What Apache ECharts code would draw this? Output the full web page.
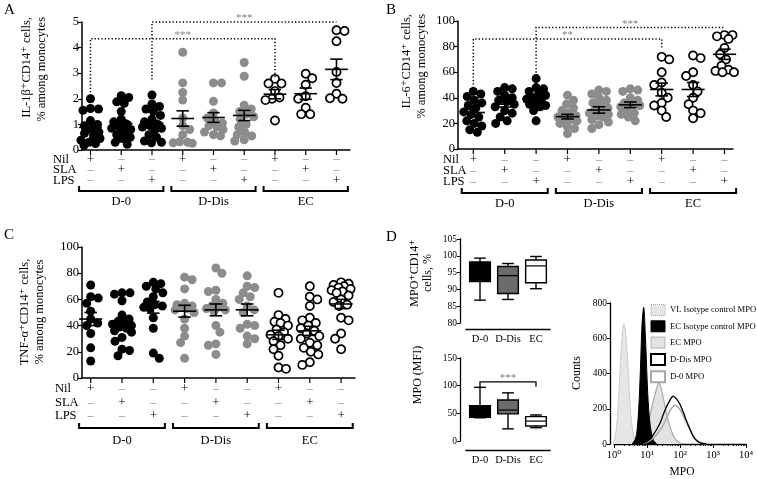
<!DOCTYPE html>
<html><head><meta charset="utf-8">
<script src="https://cdn.jsdelivr.net/npm/echarts@6.0.0/dist/echarts.min.js"></script>
<style>html,body{margin:0;padding:0;background:#fff;}#chart{width:757px;height:479px;}</style>
</head><body><div id="chart"></div>
<script>
// ================= DATA =================
const groupNames = ['D-0', 'D-Dis', 'EC'];
const columnKeys = ['D-0 Nil','D-0 SLA','D-0 LPS','D-Dis Nil','D-Dis SLA','D-Dis LPS','EC Nil','EC SLA','EC LPS'];
const rowNames = ['Nil', 'SLA', 'LPS'];
const nilRow = ['+','–','–','+','–','–','+','–','–'];
const slaRow = ['–','+','–','–','+','–','–','+','–'];
const lpsRow = ['–','–','+','–','–','+','–','–','+'];

// Panel A: IL-1β+CD14+ cells, % among monocytes
const il1bValues = [
  [2.0, 1.62, 1.6, 1.55, 1.15, 1.0, 0.95, 0.8, 0.7, 0.65, 0.55, 0.45, 0.38, 0.3, 0.25, 0.18],
  [2.12, 2.05, 1.88, 1.82, 1.5, 1.2, 1.1, 1.0, 0.9, 0.85, 0.8, 0.7, 0.6, 0.5, 0.45, 0.3, 0.22],
  [2.15, 1.8, 1.7, 1.6, 1.5, 1.35, 1.2, 1.1, 1.0, 0.95, 0.9, 0.85, 0.8, 0.6, 0.5, 0.35, 0.3, 0.28],
  [3.82, 2.62, 2.25, 1.95, 1.25, 0.95, 0.8, 0.6, 0.32, 0.3, 0.28, 0.26],
  [2.62, 2.62, 1.9, 1.45, 1.25, 1.15, 1.05, 0.95, 0.9, 0.8, 0.7, 0.6, 0.55],
  [3.42, 2.88, 1.75, 1.6, 1.5, 1.4, 1.3, 1.2, 1.0, 0.9, 0.7, 0.6, 0.55, 0.4, 0.35],
  [2.78, 2.6, 2.6, 2.3, 2.05, 2.0, 1.95, 1.15],
  [2.98, 2.8, 2.55, 2.1, 2.0, 1.65, 1.4, 1.4],
  [4.68, 4.65, 4.25, 3.05, 2.62, 2.2, 2.02, 2.0]
];
const il1bMeans = [0.88, 1.03, 1.05, 1.23, 1.27, 1.35, 2.18, 2.2, 3.15];
const il1bSems  = [0.12, 0.14, 0.11, 0.3, 0.19, 0.2, 0.18, 0.22, 0.4];
const il1bSig = [
  {cols: [0, 6], top: 4.35, ends: [2.12, 2.85], label: '***'},
  {cols: [2, 8], top: 5.0, ends: [2.75, null], label: '***'}
];

// Panel B: IL-6+CD14+ cells, % among monocytes
const il6Values = [
  [45, 43, 41, 38, 36, 34, 32, 29, 27, 25, 22, 20, 18, 15, 13],
  [48, 47, 45, 42, 40, 38, 37, 35, 33, 30, 28, 25, 22, 20],
  [55, 48, 47, 45, 43, 42, 40, 39, 38, 36, 35, 34, 33, 30, 22],
  [42, 38, 35, 32, 30, 28, 26, 25, 24, 23, 22, 20, 18, 16, 12],
  [46, 45, 43, 40, 38, 36, 34, 32, 30, 29, 28, 27, 26, 25, 23, 21, 19, 16],
  [47, 46, 45, 40, 38, 36, 35, 34, 33, 31, 28, 27, 25, 22],
  [72, 70, 60, 52, 50, 44, 40, 36, 34, 30, 25],
  [73, 71, 60, 57, 50, 45, 40, 35, 30, 28, 24],
  [89, 89, 88, 86, 79, 74, 70, 65, 62, 61, 60, 60]
];
const il6Means = [28.5, 35, 39.5, 25.3, 30.5, 34.5, 46.5, 46.5, 74];
const il6Sems  = [2.5, 2.2, 2.2, 1.8, 2.5, 2.2, 5, 5.5, 4];
const il6Sig = [
  {cols: [0, 6], top: 86, ends: [45, 78.5], label: '**'},
  {cols: [2, 8], top: 95, ends: [57, null], label: '***'}
];

// Panel C: TNF-α+CD14+ cells, % among monocytes
const tnfValues = [
  [71, 62, 61, 57, 51, 45, 42, 40, 34, 23, 13],
  [65, 65, 64, 59, 48, 45, 43, 42, 41, 40, 39, 38, 36, 35, 31, 28, 22, 21, 17],
  [73, 72, 70, 68, 65, 62, 58, 56, 55, 54, 53, 46, 38, 19, 15],
  [77, 75, 68, 57, 56, 55, 54, 53, 52, 50, 45, 38, 32, 27, 15],
  [84, 80, 67, 66, 60, 57, 55, 54, 53, 52, 51, 40, 35, 26, 25, 18],
  [78, 70, 69, 65, 62, 60, 55, 52, 50, 41, 40, 38, 32, 30, 26],
  [65, 48, 45, 43, 42, 40, 37, 35, 33, 32, 30, 28, 25, 22, 17, 8, 7],
  [70, 62, 60, 55, 46, 44, 42, 40, 38, 36, 34, 32, 30, 27, 25, 23, 20, 18, 12, 10],
  [73, 72, 71, 70, 69, 68, 67, 66, 65, 63, 60, 58, 56, 55, 46, 44, 34, 30, 22]
];
const tnfMeans = [45, 42.5, 54, 51, 52, 52, 33, 36, 56.5];
const tnfSems  = [5, 3.5, 4.5, 4.5, 4.5, 4.5, 3.5, 3.5, 3.5];

// Panel D: box plots [min, q1, median, q3, max]
const mpoPctBox = [[86.8, 92.3, 95, 98.2, 99.3], [87, 88.8, 94.1, 96.8, 97.7], [90.2, 92, 97, 98.75, 99.8]];
const mpoMfiBox = [[42, 43, 50, 64, 97], [22, 49, 56, 74, 87], [24, 27, 36, 44, 47]];
const mpoMfiSig = {cols: [0, 2], top: 107, ends: [97, 98], label: '***'};

// Panel D histogram (MPO fluorescence, counts)
const vlIsoX = [0.79, 1, 1.12, 1.26, 1.41, 1.58, 1.78, 2.0, 2.24, 2.51, 2.82, 3.16, 3.55, 3.98, 4.47, 5.01, 5.62];
const vlIsoY = [0, 20, 60, 150, 300, 480, 620, 680, 640, 520, 360, 200, 100, 45, 20, 8, 0];
const ecIsoX = [3.55, 4.47, 5.01, 5.62, 6.31, 7.08, 7.94, 8.91, 10, 11.2, 12.6, 14.1, 15.8, 20];
const ecIsoY = [0, 30, 80, 200, 420, 680, 775, 620, 380, 200, 100, 50, 20, 0];
const ecMpoX = [3.98, 6.31, 7.94, 10, 12.6, 15.8, 20, 22.9, 28.2, 35.5, 44.7, 56.2, 70.8, 100, 126];
const ecMpoY = [0, 25, 45, 90, 170, 250, 320, 345, 300, 210, 130, 70, 30, 5, 0];
const dDisMpoX = [7.94, 10, 12.6, 15.8, 20, 25.1, 31.6, 39.8, 50.1, 56.2, 63.1, 70.8, 79.4, 100, 126, 158, 200, 251, 316, 398, 501, 631];
const dDisMpoY = [5, 15, 30, 55, 85, 120, 170, 215, 250, 265, 272, 262, 255, 225, 180, 130, 85, 45, 20, 8, 3, 0];
const d0MpoX = [7.94, 10, 12.6, 15.8, 20, 25.1, 31.6, 39.8, 50.1, 63.1, 70.8, 79.4, 100, 126, 158, 200, 251, 316, 398, 501, 631];
const d0MpoY = [3, 10, 20, 35, 55, 80, 110, 150, 190, 215, 220, 215, 195, 160, 120, 80, 45, 22, 10, 3, 0];
const histLegend = ['VL Isotype control MPO', 'EC Isotype control MPO', 'EC MPO', 'D-Dis MPO', 'D-0 MPO'];

// ================= BUILD =================
const FONT = '"Liberation Serif", "DejaVu Serif", serif';
const grid = [], xAxis = [], yAxis = [], series = [], graphic = [];
const BLACK = '#000';

// deterministic beeswarm placement (pixel offsets along the category direction)
function swarm(vals, pxPerUnit, diam, maxPx) {
  const placed = [], res = [];
  let flip = 1;
  vals.forEach(v => {
    const y = v * pxPerUnit;
    let chosen = null, bestX = 0, bestD = -1;
    for (let k = 0; k <= Math.round(maxPx * 2); k++) {
      const cands = k === 0 ? [0] : [flip * k * 0.5, -flip * k * 0.5];
      for (const x of cands) {
        let dmin = Infinity;
        for (const q of placed) { const d = Math.hypot(q[0] - x, q[1] - y); if (d < dmin) dmin = d; }
        if (dmin >= diam) { chosen = x; break; }
        if (dmin > bestD + 0.01) { bestD = dmin; bestX = x; }
      }
      if (chosen !== null) break;
    }
    const x = chosen !== null ? chosen : bestX;
    if (x !== 0) flip = x > 0 ? -1 : 1;
    placed.push([x, y]); res.push(x);
  });
  return res;
}

function txt(text, x, y, size, opts) {
  opts = opts || {};
  return {type: 'text', x, y, rotation: opts.rot || 0, silent: true, z: 10,
    style: {text, font: size + 'px ' + FONT, fill: opts.color || BLACK,
      align: opts.align || 'left', verticalAlign: opts.va || 'middle', textAlign: opts.align || 'left', textVerticalAlign: opts.va || 'middle'}};
}

const groupStyles = [
  {color: '#000', size: 9},
  {color: '#8c8c8c', size: 9},
  {color: '#fff', borderColor: '#000', borderWidth: 1.7, size: 8.2}
];

function addDotPanel(p) {
  const ga = grid.length;
  grid.push({left: p.axLeft, top: p.top, width: p.axWidth, height: p.height, outerBoundsMode: 'none'});
  const gp = grid.length;
  grid.push({left: p.ptLeft, top: p.top, width: p.ptWidth, height: p.height, outerBoundsMode: 'none'});
  const axisLine = {show: true, onZero: false, lineStyle: {color: BLACK, width: 1.5}};
  xAxis.push({gridIndex: ga, type: 'value', min: 0, max: 1, position: 'bottom', axisLine, axisTick: {show: false}, axisLabel: {show: false}, splitLine: {show: false}});
  yAxis.push({gridIndex: ga, type: 'value', min: 0, max: p.yMax, interval: p.yInt, axisLine,
    axisTick: {show: true, length: 4, lineStyle: {color: BLACK, width: 1.2}},
    axisLabel: {color: BLACK, fontSize: 12.5, fontFamily: FONT, margin: 3}, splitLine: {show: false}});
  xAxis.push({gridIndex: gp, type: 'category', position: 'bottom', data: columnKeys,
    axisLine: {show: false, onZero: false},
    axisTick: {show: false},
    axisLabel: {interval: 0, margin: p.rowMargin,
      formatter: (v, i) => [nilRow[i], slaRow[i], lpsRow[i]].map(s => s === '+' ? '{p|+}' : '{m|–}').join('\n'),
      rich: {p: {color: BLACK, fontSize: 13, fontFamily: FONT, lineHeight: p.rowLH},
             m: {color: '#8a8a8a', fontSize: 12, fontFamily: FONT, lineHeight: p.rowLH}}},
    splitLine: {show: false}});
  xAxis.push({gridIndex: gp, type: 'value', position: 'top', min: -0.5, max: 8.5, show: false});
  const xv = xAxis.length - 1;
  yAxis.push({gridIndex: gp, type: 'value', min: 0, max: p.yMax, show: false});
  const yp = yAxis.length - 1;

  const pxPerUnit = p.height / p.yMax;
  const band = p.ptWidth / 9;
  for (let g = 0; g < 3; g++) {
    const data = [];
    for (let c = g * 3; c < g * 3 + 3; c++) {
      const offs = swarm(p.values[c], pxPerUnit, 7.6, 9.5);
      p.values[c].forEach((v, k) => data.push([c + offs[k] / band, v]));
    }
    const st = groupStyles[g];
    series.push({type: 'scatter', xAxisIndex: xv, yAxisIndex: yp, data, symbol: 'circle', symbolSize: st.size, silent: true, z: 2,
      itemStyle: {color: st.color, borderColor: st.borderColor || st.color, borderWidth: st.borderWidth || 0, opacity: 1}});
  }
  // mean ± SEM
  series.push({type: 'custom', xAxisIndex: xv, yAxisIndex: yp, silent: true, z: 5,
    data: p.means.map((m, i) => [i, m, p.sems[i]]), encode: {x: 0, y: 1},
    renderItem: (params, api) => {
      const c = api.value(0), m = api.value(1), s = api.value(2);
      const pm = api.coord([c, m]), pt = api.coord([c, m + s]), pb = api.coord([c, m - s]);
      const bw = api.size([1, 0])[0];
      const hw = bw * 0.37, cw = bw * 0.2;
      const st = {stroke: BLACK, lineWidth: 1.6};
      return {type: 'group', children: [
        {type: 'line', shape: {x1: pm[0] - hw, y1: pm[1], x2: pm[0] + hw, y2: pm[1]}, style: st},
        {type: 'line', shape: {x1: pm[0], y1: pt[1], x2: pm[0], y2: pb[1]}, style: st},
        {type: 'line', shape: {x1: pm[0] - cw, y1: pt[1], x2: pm[0] + cw, y2: pt[1]}, style: st},
        {type: 'line', shape: {x1: pm[0] - cw, y1: pb[1], x2: pm[0] + cw, y2: pb[1]}, style: st}
      ]};
    }});
  if (p.sigs) series.push(sigSeries(xv, yp, p.sigs, {lw: 1.5, dash: [1.3, 2.1], textColor: '#808080'}));
  // category ticks + group brackets
  series.push({type: 'custom', xAxisIndex: xv, yAxisIndex: yp, silent: true, clip: false, z: 5,
    data: groupNames.map((g, i) => [i * 3, i * 3 + 2, i]), encode: {x: 0, y: 2},
    renderItem: (params, api) => {
      const c0 = api.value(0), c1 = api.value(1);
      const a = api.coord([c0, 0]), b = api.coord([c1, 0]);
      const bw = api.size([1, 0])[0];
      const l = a[0] - bw * 0.37, r = b[0] + bw * 0.37, yb = a[1] + p.bracketDy;
      const kids = [
        {type: 'polyline', shape: {points: [[l, yb - 5], [l, yb], [r, yb], [r, yb - 5]]}, style: {stroke: BLACK, lineWidth: 2, fill: null}},
        {type: 'text', style: {text: groupNames[api.value(2)], x: (l + r) / 2, y: a[1] + p.labelDy, align: 'center', verticalAlign: 'middle', fill: BLACK, font: '12.5px ' + FONT}}
      ];
      for (let c = c0; c <= c1; c++) {
        const t = api.coord([c, 0]);
        kids.push({type: 'line', shape: {x1: t[0], y1: t[1], x2: t[0], y2: t[1] + 5}, style: {stroke: BLACK, lineWidth: 1.2}});
      }
      return {type: 'group', children: kids};
    }});
  const axisY = p.top + p.height;
  rowNames.forEach((n, i) => graphic.push(txt(n, p.rowLabelX, axisY + p.rowMargin + p.rowLH * (i + 0.5), 12.5)));
  p.titles.forEach((t, i) => graphic.push(txt(t, p.titleX[i], p.titleY, 12.5, {rot: Math.PI / 2, align: p.titleAlign})));
}

function sigSeries(xIdx, yIdx, sigs, style) {
  return {type: 'custom', xAxisIndex: xIdx, yAxisIndex: yIdx, silent: true, clip: false, z: 6,
    data: sigs.map((s, i) => [s.cols[0], s.top, i]), encode: {x: 0, y: 1},
    renderItem: (params, api) => {
      const s = sigs[api.value(2)];
      const pts = [];
      if (s.ends[0] != null) pts.push(api.coord([s.cols[0], s.ends[0]]));
      pts.push(api.coord([s.cols[0], s.top]));
      pts.push(api.coord([s.cols[1], s.top]));
      if (s.ends[1] != null) pts.push(api.coord([s.cols[1], s.ends[1]]));
      const mid = api.coord([(s.cols[0] + s.cols[1]) / 2, s.top]);
      const ls = {stroke: BLACK, lineWidth: style.lw, fill: null};
      if (style.dash) ls.lineDash = style.dash;
      return {type: 'group', children: [
        {type: 'polyline', shape: {points: pts}, style: ls},
        {type: 'text', style: {text: s.label, x: mid[0], y: mid[1] + 2, align: 'center', verticalAlign: 'bottom', fill: style.textColor, font: '11px ' + FONT}}
      ]};
    }};
}

addDotPanel({axLeft: 82, axWidth: 268, ptLeft: 75.1, ptWidth: 276.75, top: 22, height: 128, yMax: 5, yInt: 1,
  rowLH: 10.5, rowMargin: 4, rowLabelX: 53, bracketDy: 41, labelDy: 52,
  values: il1bValues, means: il1bMeans, sems: il1bSems, sigs: il1bSig,
  titles: ['IL-1β⁺CD14⁺ cells,', '% among monocytes'], titleX: [27, 42], titleY: 17, titleAlign: 'right'});
addDotPanel({axLeft: 458, axWidth: 275, ptLeft: 457.6, ptWidth: 282.6, top: 21, height: 128, yMax: 100, yInt: 20,
  rowLH: 11, rowMargin: 5.5, rowLabelX: 443, bracketDy: 44, labelDy: 55,
  values: il6Values, means: il6Means, sems: il6Sems, sigs: il6Sig,
  titles: ['IL-6⁺CD14⁺ cells,', '% among monocytes'], titleX: [407, 422], titleY: 14, titleAlign: 'right'});
addDotPanel({axLeft: 82, axWidth: 273, ptLeft: 75.05, ptWidth: 281.7, top: 247, height: 131, yMax: 100, yInt: 20,
  rowLH: 13.5, rowMargin: 4.25, rowLabelX: 55, bracketDy: 50, labelDy: 63,
  values: tnfValues, means: tnfMeans, sems: tnfSems, sigs: null,
  titles: ['TNF-α⁺CD14⁺ cells,', '% among monocytes'], titleX: [25, 40], titleY: 312, titleAlign: 'center'});

// ---- Panel D box plots ----
const boxColors = ['#000', '#6b6b6b', '#fff'];
function addBoxPanel(b) {
  const gi = grid.length;
  grid.push({left: 466, top: b.top, width: 84, height: b.height, outerBoundsMode: 'none'});
  xAxis.push({gridIndex: gi, type: 'category', data: groupNames, position: 'bottom', offset: b.xOffset,
    axisLine: {show: true, onZero: false, lineStyle: {color: BLACK, width: 1.3}}, axisTick: {show: false},
    axisLabel: {interval: 0, color: BLACK, fontSize: 10.5, fontFamily: FONT, margin: 5}, splitLine: {show: false}});
  const xi = xAxis.length - 1;
  yAxis.push({gridIndex: gi, type: 'value', min: b.min, max: b.max, interval: b.interval, offset: 6,
    axisLine: {show: true, onZero: false, lineStyle: {color: BLACK, width: 1.3}},
    axisTick: {show: true, length: 3, lineStyle: {color: BLACK, width: 1}},
    axisLabel: {color: BLACK, fontSize: 9.5, fontFamily: FONT, margin: 3}, splitLine: {show: false}});
  const yi = yAxis.length - 1;
  series.push({type: 'custom', xAxisIndex: xi, yAxisIndex: yi, silent: true, z: 3,
    data: b.data.map((d, i) => [i].concat(d)), encode: {x: 0, y: [1, 2, 3, 4, 5]},
    renderItem: (params, api) => {
      const i = api.value(0);
      const y = v => api.coord([i, v])[1];
      const cx = api.coord([i, api.value(3)])[0];
      const band = api.size([1, 0])[0];
      const bw = band * 0.74, cw = band * 0.42;
      const st = {stroke: BLACK, lineWidth: 1.4};
      const mn = y(api.value(1)), q1 = y(api.value(2)), md = y(api.value(3)), q3 = y(api.value(4)), mx = y(api.value(5));
      return {type: 'group', children: [
        {type: 'line', shape: {x1: cx, y1: mx, x2: cx, y2: q3}, style: st},
        {type: 'line', shape: {x1: cx, y1: q1, x2: cx, y2: mn}, style: st},
        {type: 'line', shape: {x1: cx - cw / 2, y1: mx, x2: cx + cw / 2, y2: mx}, style: st},
        {type: 'line', shape: {x1: cx - cw / 2, y1: mn, x2: cx + cw / 2, y2: mn}, style: st},
        {type: 'rect', shape: {x: cx - bw / 2, y: q3, width: bw, height: q1 - q3}, style: {fill: boxColors[i], stroke: BLACK, lineWidth: 1.4}},
        {type: 'line', shape: {x1: cx - bw / 2, y1: md, x2: cx + bw / 2, y2: md}, style: {stroke: BLACK, lineWidth: 1.2}}
      ]};
    }});
  if (b.sig) series.push(sigSeries(xi, yi, [b.sig], {lw: 1.3, dash: null, textColor: '#808080'}));
  b.titles.forEach((t, k) => graphic.push(txt(t, b.titleX[k], b.titleY, 12, {rot: Math.PI / 2, align: 'center'})));
}
addBoxPanel({top: 239, height: 84, xOffset: 6, min: 80, max: 105, interval: 5, data: mpoPctBox, sig: null,
  titles: ['MPO⁺CD14⁺', 'cells, %'], titleX: [415, 428], titleY: 273});
addBoxPanel({top: 358, height: 83, xOffset: 9, min: 0, max: 150, interval: 50, data: mpoMfiBox, sig: mpoMfiSig,
  titles: ['MPO (MFI)'], titleX: [418], titleY: 375});

// ---- Panel D histogram ----
const hg = grid.length;
grid.push({left: 614, top: 303, width: 132, height: 141, outerBoundsMode: 'none'});
const sup = ['⁰', '¹', '²', '³', '⁴'];
xAxis.push({gridIndex: hg, type: 'log', logBase: 10, min: 1, max: 10000, position: 'bottom',
  axisLine: {show: true, onZero: false, lineStyle: {color: BLACK, width: 1.3}},
  axisTick: {show: true, length: 4, lineStyle: {color: BLACK, width: 1}},
  minorTick: {show: true, splitNumber: 9, length: 2, lineStyle: {color: BLACK, width: 0.8}},
  axisLabel: {color: BLACK, fontSize: 10.5, fontFamily: FONT, margin: 6, formatter: v => '10' + sup[Math.round(Math.log10(v))]},
  splitLine: {show: false}, minorSplitLine: {show: false}});
const hx = xAxis.length - 1;
yAxis.push({gridIndex: hg, type: 'value', min: 0, max: 800, interval: 200, offset: 4,
  axisLine: {show: true, onZero: false, lineStyle: {color: BLACK, width: 1.3}},
  axisTick: {show: true, length: 3, lineStyle: {color: BLACK, width: 1}},
  axisLabel: {color: BLACK, fontSize: 9.5, fontFamily: FONT, margin: 3}, splitLine: {show: false}});
const hy = yAxis.length - 1;
function histSeries(name, xs, ys, line, area, z) {
  const s = {type: 'line', name, xAxisIndex: hx, yAxisIndex: hy, data: xs.map((x, i) => [x, ys[i]]), smooth: 0.35,
    showSymbol: false, symbol: 'none', silent: true, z, lineStyle: line, itemStyle: {color: line.color}};
  if (area) s.areaStyle = {color: area, opacity: 1};
  return s;
}
series.push(histSeries(histLegend[0], vlIsoX, vlIsoY, {color: '#a8a8a8', width: 1, type: 'dotted'}, '#e6e6e6', 2));
series.push(histSeries(histLegend[2], ecMpoX, ecMpoY, {color: '#aaaaaa', width: 1.2}, '#e2e2e2', 3));
series.push(histSeries(histLegend[1], ecIsoX, ecIsoY, {color: '#000', width: 1}, '#000', 4));
series.push(histSeries(histLegend[4], d0MpoX, d0MpoY, {color: '#a8a8a8', width: 1.5}, null, 5));
series.push(histSeries(histLegend[3], dDisMpoX, dDisMpoY, {color: '#000', width: 1.3}, null, 6));

const legendStyles = [
  {color: '#e6e6e6', borderColor: '#a8a8a8', borderWidth: 1, borderType: 'dotted'},
  {color: '#000', borderColor: '#000', borderWidth: 1},
  {color: '#e2e2e2', borderColor: '#b0b0b0', borderWidth: 1},
  {color: '#fff', borderColor: '#000', borderWidth: 2},
  {color: '#fff', borderColor: '#a8a8a8', borderWidth: 2}
];

graphic.push(txt('Counts', 577, 373, 12, {rot: Math.PI / 2, align: 'center'}));
graphic.push(txt('MPO', 682, 472, 11.5, {align: 'center'}));
graphic.push(txt('A', 4, 10, 15));
graphic.push(txt('B', 386, 10, 15));
graphic.push(txt('C', 4, 235, 15));
graphic.push(txt('D', 386, 237, 15));

const chart = echarts.init(document.getElementById('chart'), null, {renderer: 'canvas'});
chart.setOption({
  animation: false,
  backgroundColor: '#fff',
  textStyle: {fontFamily: FONT},
  grid, xAxis, yAxis, series, graphic,
  legend: {orient: 'vertical', left: 650, top: 304, itemWidth: 14, itemHeight: 11, itemGap: 4.3, selectedMode: false,
    padding: 0, textStyle: {fontSize: 8.6, fontFamily: FONT, color: BLACK},
    data: histLegend.map((n, i) => ({name: n, icon: 'rect', itemStyle: legendStyles[i]}))}
});
</script></body></html>
